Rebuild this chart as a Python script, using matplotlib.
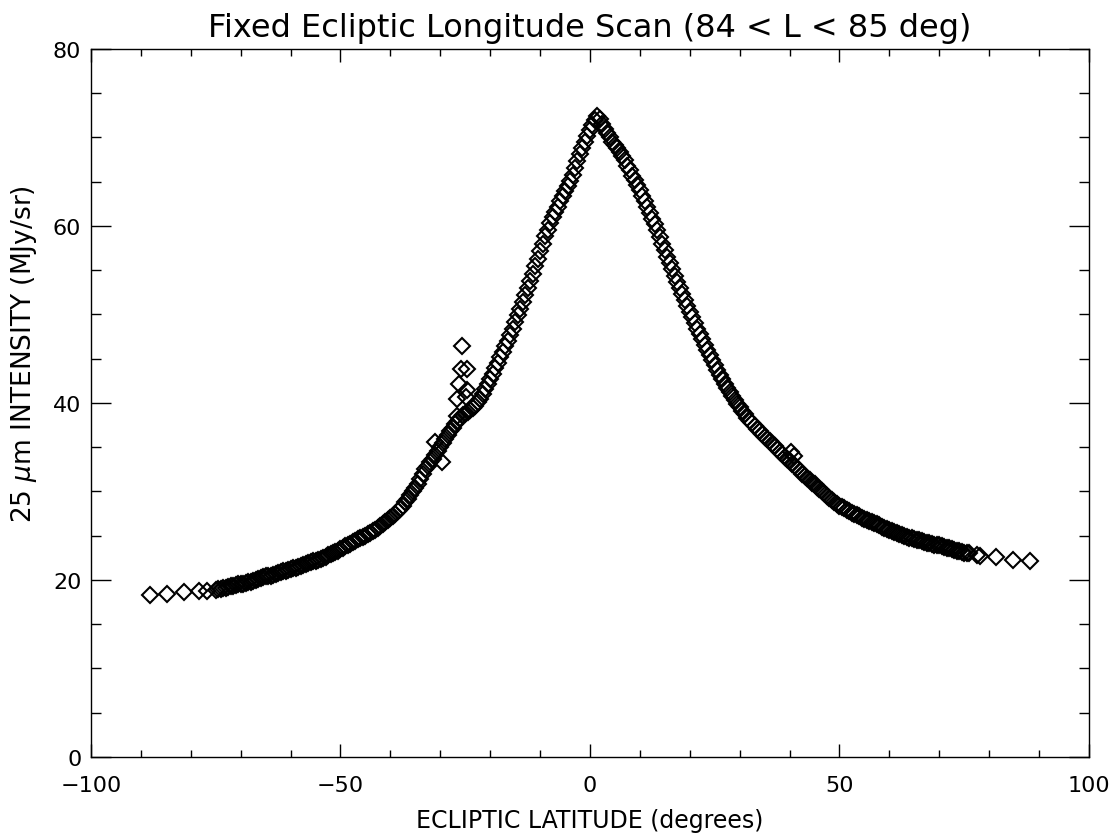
import matplotlib
matplotlib.use("Agg")
import matplotlib.pyplot as plt
from matplotlib.ticker import MultipleLocator

# ecliptic latitude (deg) and 25 um intensity (MJy/sr)
lat_south_tail = [-88.2, -84.8, -81.4, -78.4, -76.7,
                  -75, -74, -73, -72, -71, -70, -69, -68, -67, -66, -65, -64, -63, -62,
                  -61, -60, -59, -58, -57, -56, -55, -54, -53, -52, -51, -50, -49, -48,
                  -47, -46, -45, -44, -43, -42, -41]
int_south_tail = [18.3, 18.4, 18.6, 18.7, 18.8,
                  18.9, 19.0, 19.1, 19.3, 19.4, 19.5, 19.7, 19.8, 20.0, 20.2, 20.4, 20.5, 20.7, 20.9,
                  21.0, 21.2, 21.4, 21.6, 21.8, 22.0, 22.2, 22.4, 22.6, 22.9, 23.2, 23.5, 23.8, 24.1,
                  24.4, 24.7, 25.0, 25.3, 25.7, 26.1, 26.6]
lat_south_tail_b = [-74.5, -73.5, -72.5, -71.5, -70.5, -69.5, -68.5, -67.5, -66.5, -65.5,
                    -64.5, -63.5, -62.5, -61.5, -60.5, -59.5, -58.5, -57.5, -56.5, -55.5,
                    -54.5, -53.5, -52.5, -51.5, -50.5, -49.5, -48.5, -47.5, -46.5, -45.5,
                    -44.5, -43.5, -42.5, -41.5, -40.5]
int_south_tail_b = [19.0, 19.1, 19.2, 19.3, 19.5, 19.6, 19.8, 19.9, 20.1, 20.3,
                    20.5, 20.6, 20.8, 21.0, 21.1, 21.3, 21.5, 21.7, 21.9, 22.1,
                    22.3, 22.5, 22.8, 23.0, 23.3, 23.6, 24.0, 24.3, 24.6, 24.9,
                    25.2, 25.5, 25.9, 26.3, 26.8]

lat_core = [-40.0, -39.5, -39.0, -38.5, -38.0, -37.5, -37.0, -36.5, -36.0, -35.5,
            -35.0, -34.5, -34.0, -33.5, -33.0, -32.5, -32.0, -31.5, -31.0, -30.5,
            -30.0, -29.5, -29.0, -28.5, -28.0, -27.5, -27.0, -26.5, -26.0, -25.5,
            -25.0, -24.5, -24.0, -23.5, -23.0, -22.5, -22.0, -21.5, -21.0, -20.5,
            -20.0, -19.5, -19.0, -18.5, -18.0, -17.5, -17.0, -16.5, -16.0, -15.5,
            -15.0, -14.5, -14.0, -13.5, -13.0, -12.5, -12.0, -11.5, -11.0, -10.5,
            -10.0, -9.5, -9.0, -8.5, -8.0, -7.5, -7.0, -6.5, -6.0, -5.5,
            -5.0, -4.5, -4.0, -3.5, -3.0, -2.5, -2.0, -1.5, -1.0, -0.5,
            0.0, 0.5, 1.0, 1.5, 2.0, 2.5, 3.0, 3.5, 4.0, 4.5,
            5.0, 5.5, 6.0, 6.5, 7.0, 7.5, 8.0, 8.5, 9.0, 9.5,
            10.0, 10.5, 11.0, 11.5, 12.0, 12.5, 13.0, 13.5, 14.0, 14.5,
            15.0, 15.5, 16.0, 16.5, 17.0, 17.5, 18.0, 18.5, 19.0, 19.5,
            20.0, 20.5, 21.0, 21.5, 22.0, 22.5, 23.0, 23.5, 24.0, 24.5,
            25.0, 25.5, 26.0, 26.5, 27.0, 27.5, 28.0, 28.5, 29.0, 29.5,
            30.0, 30.5, 31.0, 31.5, 32.0, 32.5, 33.0, 33.5, 34.0, 34.5,
            35.0, 35.5, 36.0, 36.5, 37.0, 37.5, 38.0, 38.5, 39.0, 39.5, 40.0]
int_core = [27.0, 27.2, 27.5, 27.8, 28.0, 28.4, 28.8, 29.2, 29.6, 30.0,
            30.4, 30.9, 31.4, 32.0, 32.5, 32.9, 33.3, 33.7, 34.1, 34.6,
            35.0, 35.5, 35.9, 36.4, 36.8, 37.2, 37.6, 38.0, 38.3, 38.6,
            38.8, 39.0, 39.2, 39.4, 39.7, 40.1, 40.5, 41.0, 41.6, 42.1,
            42.7, 43.3, 43.9, 44.5, 45.2, 45.8, 46.4, 47.0, 47.7, 48.4,
            49.2, 49.9, 50.6, 51.4, 52.2, 53.0, 53.8, 54.6, 55.5, 56.3,
            57.2, 58.0, 58.9, 59.6, 60.3, 61.0, 61.6, 62.2, 62.8, 63.4,
            63.9, 64.5, 65.1, 65.8, 66.6, 67.3, 68.1, 68.8, 69.5, 70.2,
            70.8, 71.4, 72.0, 72.4, 72.1, 71.5, 71.0, 70.5, 70.0, 69.5,
            69.1, 68.8, 68.4, 67.9, 67.4, 66.8, 66.3, 65.7, 65.2, 64.6,
            64.1, 63.4, 62.8, 62.1, 61.5, 60.8, 60.2, 59.5, 58.8, 58.0,
            57.3, 56.5, 55.8, 55.1, 54.4, 53.7, 53.0, 52.3, 51.6, 51.0,
            50.3, 49.7, 49.0, 48.4, 47.8, 47.2, 46.6, 46.0, 45.4, 44.8,
            44.3, 43.7, 43.2, 42.7, 42.2, 41.7, 41.2, 40.8, 40.3, 39.9,
            39.5, 39.1, 38.7, 38.3, 38.0, 37.7, 37.4, 37.1, 36.8, 36.5,
            36.2, 35.9, 35.7, 35.4, 35.1, 34.8, 34.5, 34.2, 33.9, 33.7, 33.4]

lat_north_tail = [41, 42, 43, 44, 45, 46, 47, 48, 49, 50, 51, 52, 53, 54, 55, 56, 57, 58,
                  59, 60, 61, 62, 63, 64, 65, 66, 67, 68, 69, 70, 71, 72, 73, 74, 75, 76,
                  77.5, 78.2, 81.4, 84.8, 88.2]
int_north_tail = [32.9, 32.3, 31.8, 31.3, 30.8, 30.3, 29.8, 29.3, 28.8, 28.4, 28.1, 27.8,
                  27.5, 27.2, 26.9, 26.7, 26.4, 26.2, 25.9, 25.7, 25.4, 25.2, 25.0, 24.8,
                  24.6, 24.5, 24.3, 24.2, 24.0, 23.9, 23.7, 23.6, 23.4, 23.3, 23.1, 23.0,
                  22.8, 22.7, 22.6, 22.3, 22.1]
lat_north_tail_b = [40.5, 41.5, 42.5, 43.5, 44.5, 45.5, 46.5, 47.5, 48.5, 49.5,
                    50.5, 51.5, 52.5, 53.5, 54.5, 55.5, 56.5, 57.5, 58.5, 59.5,
                    60.5, 61.5, 62.5, 63.5, 64.5, 65.5, 66.5, 67.5, 68.5, 69.5,
                    70.5, 71.5, 72.5, 73.5, 74.5, 75.5]
int_north_tail_b = [33.1, 32.6, 32.0, 31.5, 31.0, 30.5, 30.0, 29.5, 29.0, 28.6,
                    28.2, 27.9, 27.6, 27.3, 27.0, 26.8, 26.5, 26.3, 26.0, 25.8,
                    25.5, 25.3, 25.1, 24.9, 24.7, 24.5, 24.4, 24.2, 24.1, 23.9,
                    23.8, 23.6, 23.5, 23.3, 23.2, 23.0]

# point sources sticking out of the smooth zodiacal profile
lat_spikes = [-25.7, -25.9, -24.6, -26.3, -24.6, -26.7, -24.9, -26.7, -31.1, -29.7, 40.3, 40.8]
int_spikes = [46.4, 43.8, 43.8, 42.1, 41.5, 40.4, 40.7, 38.5, 35.6, 33.3, 34.5, 34.0]

lat = lat_south_tail + lat_south_tail_b + lat_core + lat_north_tail + lat_north_tail_b + lat_spikes
inten = int_south_tail + int_south_tail_b + int_core + int_north_tail + int_north_tail_b + int_spikes

plt.rcParams["font.family"] = ["DejaVu Sans"]

fig = plt.figure(figsize=(11.18, 8.37), dpi=100)
ax = fig.add_axes([0.0814, 0.0944, 0.8926, 0.8459])

ax.plot(lat, inten, ls="none", marker="D", ms=8.0, mfc="none", mec="black", mew=1.5)

ax.set_xlim(-100, 100)
ax.set_ylim(0, 80)
ax.xaxis.set_major_locator(MultipleLocator(50))
ax.xaxis.set_minor_locator(MultipleLocator(10))
ax.yaxis.set_major_locator(MultipleLocator(20))
ax.yaxis.set_minor_locator(MultipleLocator(5))
ax.tick_params(which="both", direction="in", top=True, right=True, width=1.0,
               labelsize=16, color="black")
ax.tick_params(axis="x", which="major", length=9.5, pad=13)
ax.tick_params(axis="x", which="minor", length=5)
ax.tick_params(axis="y", which="major", length=14.5, pad=7)
ax.tick_params(axis="y", which="minor", length=7.2)
for s in ax.spines.values():
    s.set_linewidth(1.0)

ax.set_title("Fixed Ecliptic Longitude Scan (84 < L < 85 deg)", fontsize=23, pad=9)
ax.set_xlabel("ECLIPTIC LATITUDE (degrees)", fontsize=17, labelpad=9)
ax.set_ylabel(r"25 $\mu$m INTENSITY (MJy/sr)", fontsize=19)
ax.yaxis.set_label_coords(-0.052, 0.57)

fig.savefig("out.png", dpi=100, facecolor="white")
